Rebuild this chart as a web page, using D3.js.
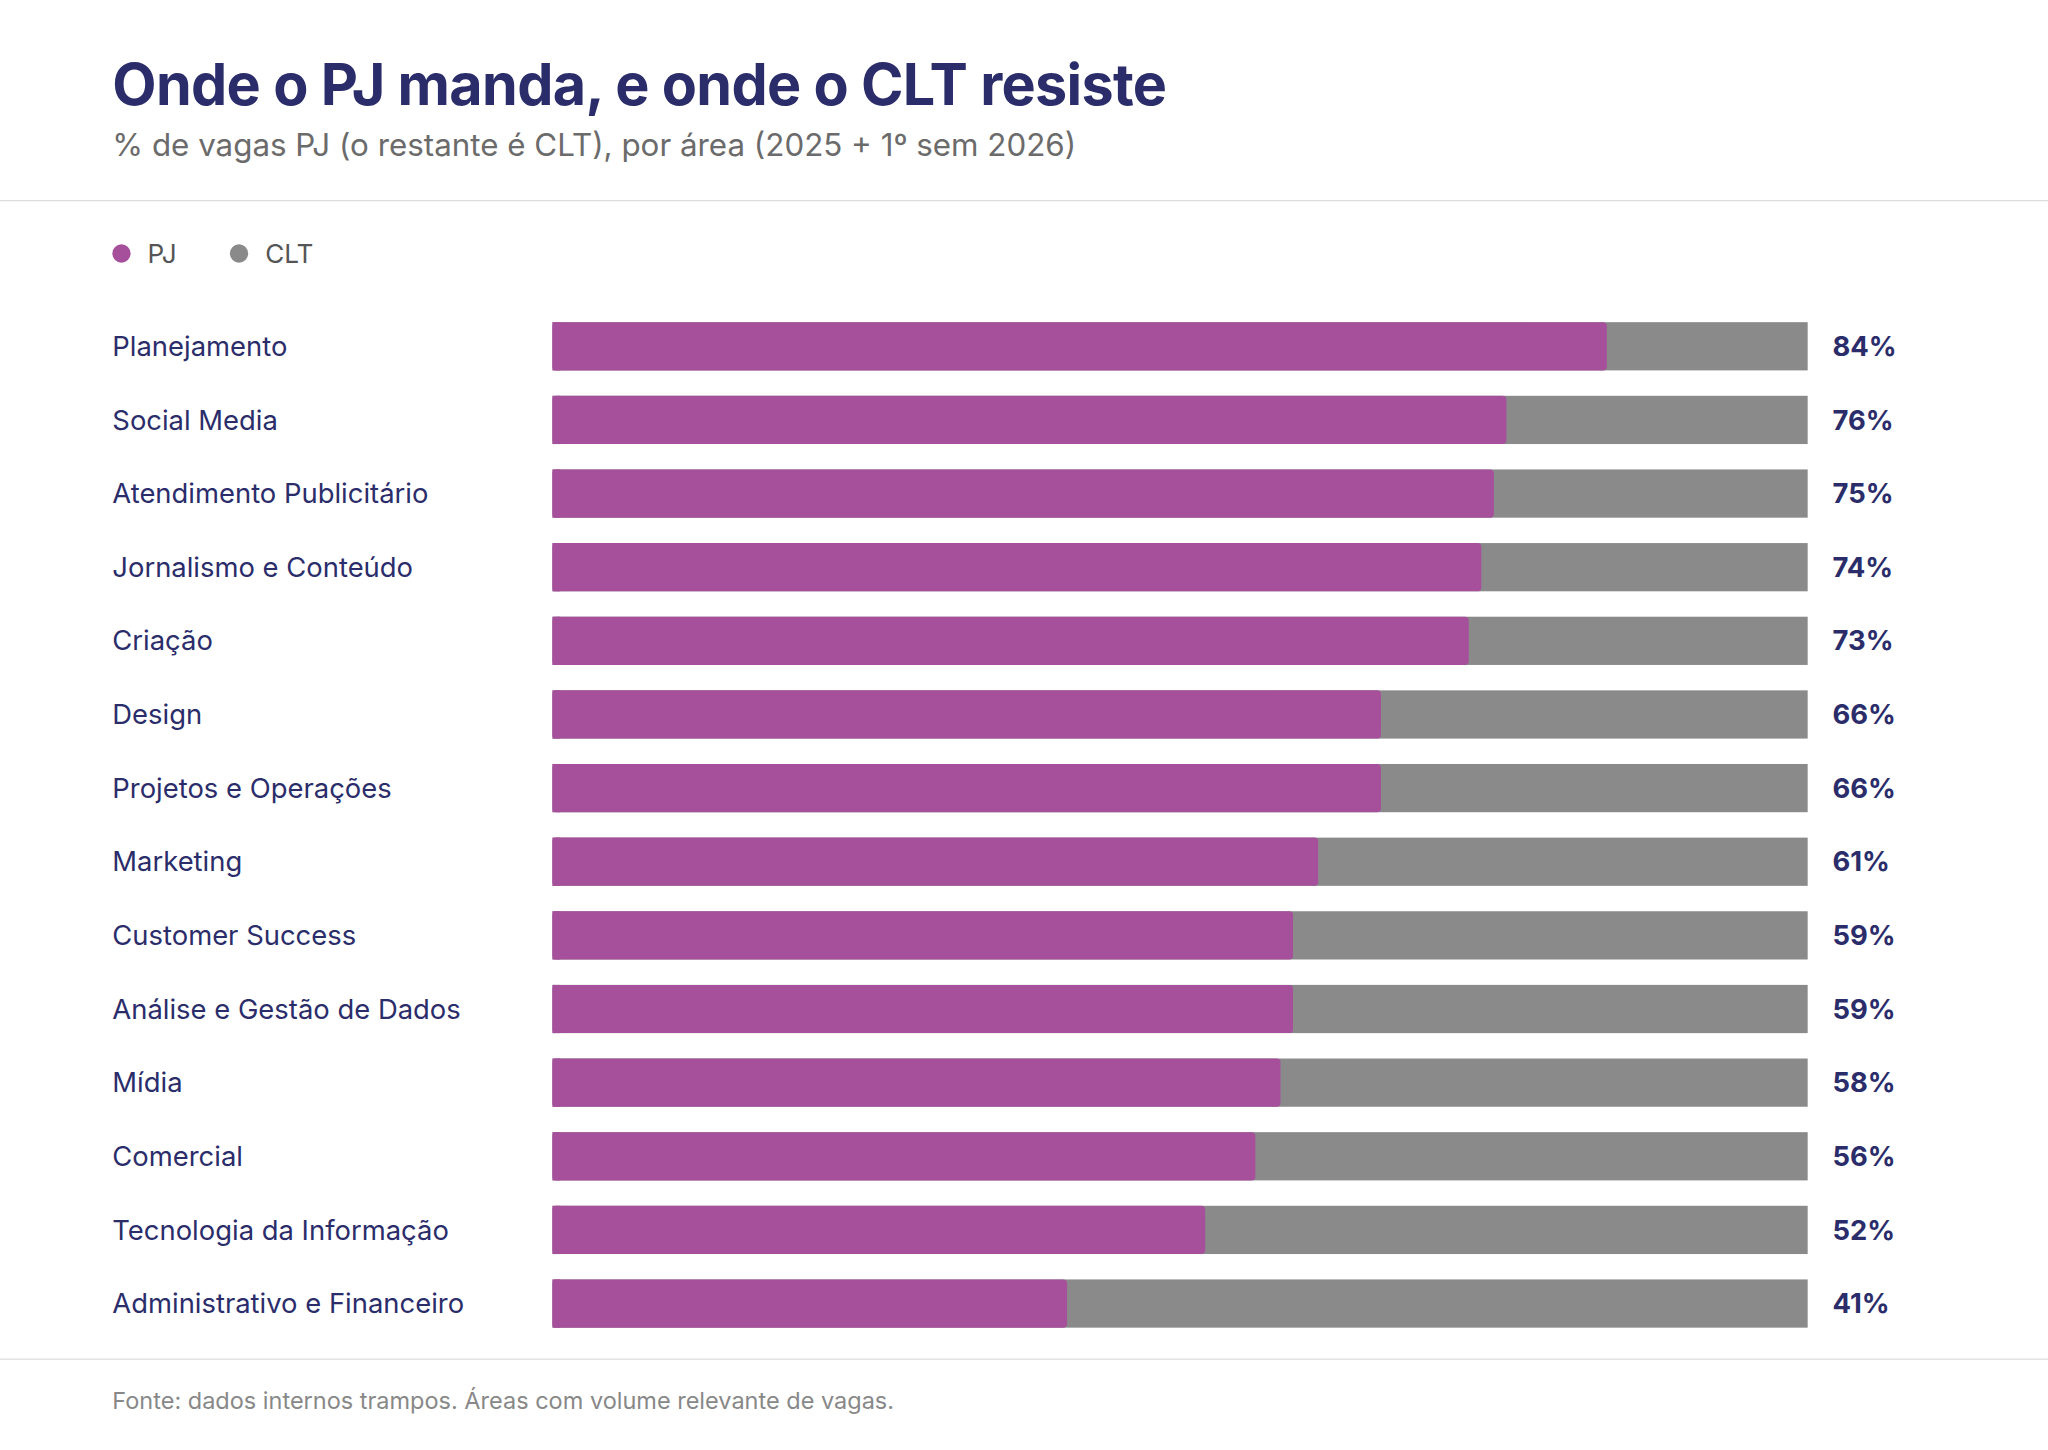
<!DOCTYPE html><html><head><meta charset="utf-8"><script src="https://cdn.jsdelivr.net/npm/d3@7"></script>
<style>body{margin:0;background:#fff}svg{display:block}</style></head><body><svg id="c"></svg><script>
const categories=["Planejamento","Social Media","Atendimento Publicitário","Jornalismo e Conteúdo","Criação","Design","Projetos e Operações","Marketing","Customer Success","Análise e Gestão de Dados","Mídia","Comercial","Tecnologia da Informação","Administrativo e Financeiro"];
const pjValues=[84,76,75,74,73,66,66,61,59,59,58,56,52,41];
const seriesNames=["PJ","CLT"];
const W=1568,H=1110;
const svg=d3.select("#c").attr("width",2048).attr("height",1450).attr("viewBox",`0 0 ${W} ${H}`);
const font="Inter, 'Noto Sans', sans-serif";
const navy="#2b2d6b",purple="#a6509c",grey="#8a8a8a";
svg.append("text").attr("x",86).attr("y",80).attr("font-family",font).attr("font-weight",700).attr("font-size",44).attr("fill",navy).attr("letter-spacing",-0.5).text("Onde o PJ manda, e onde o CLT resiste");
svg.append("text").attr("x",86).attr("y",119).attr("font-family",font).attr("font-size",24).attr("fill","#6b6b6b").text("% de vagas PJ (o restante é CLT), por área (2025 + 1º sem 2026)");
svg.append("line").attr("x1",0).attr("x2",W).attr("y1",153.5).attr("y2",153.5).attr("stroke","#ddd");
svg.append("line").attr("x1",0).attr("x2",W).attr("y1",1040.5).attr("y2",1040.5).attr("stroke","#ddd");
const lg=[{n:seriesNames[0],c:purple,x:93},{n:seriesNames[1],c:grey,x:183}];
lg.forEach(d=>{svg.append("circle").attr("cx",d.x).attr("cy",194).attr("r",7).attr("fill",d.c);
svg.append("text").attr("x",d.x+20).attr("y",201).attr("font-family",font).attr("font-size",20).attr("fill","#555").text(d.n);});
const x=d3.scaleLinear().domain([0,100]).range([423,1384]);
const y=d3.scaleBand().domain(categories).range([237,1026]).paddingInner(0.345).paddingOuter(0.17);
const g=svg.append("g").selectAll("g").data(categories).join("g");
g.append("rect").attr("x",x(0)).attr("y",d=>y(d)).attr("width",x(100)-x(0)).attr("height",y.bandwidth()).attr("fill",grey);
g.append("rect").attr("x",x(0)).attr("y",d=>y(d)).attr("width",(d,i)=>x(pjValues[i])-x(0)).attr("height",y.bandwidth()).attr("rx",3).attr("fill",purple);
g.append("rect").attr("x",x(0)).attr("y",d=>y(d)).attr("width",6).attr("height",y.bandwidth()).attr("fill",purple);
g.append("text").attr("x",86).attr("y",d=>y(d)+y.bandwidth()/2).attr("dy","0.35em").attr("font-family",font).attr("font-size",21).attr("fill",navy).text(d=>d);
g.append("text").attr("x",1403).attr("y",d=>y(d)+y.bandwidth()/2).attr("dy","0.35em").attr("font-family",font).attr("font-weight",700).attr("font-size",21).attr("fill",navy).text((d,i)=>pjValues[i]+"%");
svg.append("text").attr("x",86).attr("y",1079).attr("font-family",font).attr("font-size",18).attr("fill","#888").text("Fonte: dados internos trampos. Áreas com volume relevante de vagas.");
</script></body></html>
